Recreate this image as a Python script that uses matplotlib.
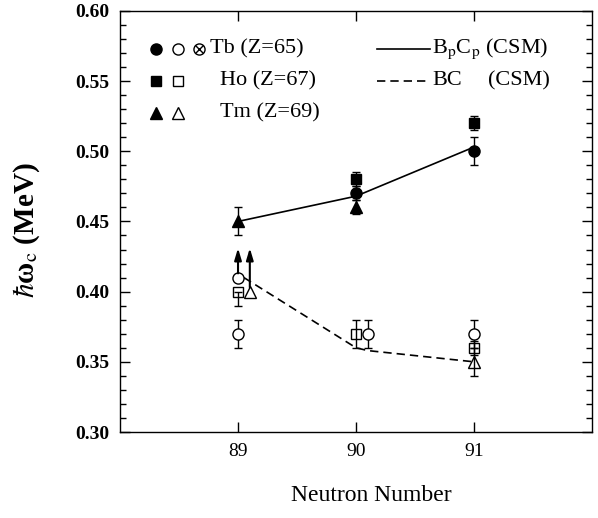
import matplotlib
matplotlib.use("Agg")
import matplotlib.pyplot as plt
from matplotlib.ticker import MultipleLocator

plt.rcParams['font.family'] = ['Liberation Serif', 'DejaVu Serif']
plt.rcParams['mathtext.fontset'] = 'stix'

# CSM curves
bpcp_n = [89, 90, 91]
bpcp_w = [0.45, 0.468, 0.503]
bc_n = [89.05, 90, 90.1, 91]
bc_w = [0.41, 0.36, 0.358, 0.35]

# filled symbols (one band)
tb_fill_n = [90, 91]
tb_fill_w = [0.47, 0.50]
tb_fill_err = [0.005, 0.01]
ho_fill_n = [90, 91]
ho_fill_w = [0.48, 0.52]
ho_fill_err = [0.005, 0.005]
tm_fill_n = [89, 90]
tm_fill_w = [0.45, 0.46]
tm_fill_err = [0.01, 0.005]

# open symbols (other band)
tb_open_n = [90.1, 91]
tb_open_w = [0.37, 0.37]
tb_open_err = [0.01, 0.01]
tb_cross_n = [89]
tb_cross_w = [0.37]
tb_cross_err = [0.01]
ho_open_n = [89, 90, 91]
ho_open_w = [0.40, 0.37, 0.36]
ho_open_lo = [0.01, 0.01, 0.005]
ho_open_hi = [0.0, 0.01, 0.005]
tm_open_n = [91]
tm_open_w = [0.35]
tm_open_err = [0.01]

# lower limits (arrows)
tb_lim_n, tb_lim_w = [89], [0.41]
tm_lim_n, tm_lim_w = [89.1], [0.40]
lim_top = 0.431

fig = plt.figure(figsize=(5.98, 5.18), dpi=100)
ax = fig.add_axes([0.2007, 0.166, 0.7893, 0.813])

ax.plot(bpcp_n, bpcp_w, '-', color='black', lw=1.2)
ax.plot(bc_n, bc_w, '--', color='black', lw=1.2, dashes=(5, 3))

eb = dict(color='black', ecolor='black', elinewidth=1.0, capsize=3, capthick=1.0, linestyle='none')
ax.errorbar(tb_fill_n, tb_fill_w, yerr=tb_fill_err, fmt='o', ms=8, mfc='black', **eb)
ax.errorbar(ho_fill_n, ho_fill_w, yerr=ho_fill_err, fmt='s', ms=7, mfc='black', **eb)
ax.errorbar(tm_fill_n, tm_fill_w, yerr=tm_fill_err, fmt='^', ms=8, mfc='black', **eb)

ax.errorbar(tb_open_n, tb_open_w, yerr=tb_open_err, fmt='o', ms=8, mfc='white', mew=1.0, **eb)
ax.errorbar(tb_cross_n, tb_cross_w, yerr=tb_cross_err, fmt='o', ms=8, mfc='white', mew=1.0, **eb)
ax.plot(tb_cross_n, tb_cross_w, 'x', color='black', ms=5.5, mew=1.0)
ax.errorbar(ho_open_n, ho_open_w, yerr=[ho_open_lo, ho_open_hi], fmt='s', ms=7, mfc='none', mew=1.0, **eb)
ax.errorbar(tm_open_n, tm_open_w, yerr=tm_open_err, fmt='^', ms=8, mfc='none', mew=1.0, **eb)

for n, w in zip(tb_lim_n + tm_lim_n, tb_lim_w + tm_lim_w):
    ax.annotate('', xy=(n, lim_top), xytext=(n, w + 0.003),
                arrowprops=dict(arrowstyle='-|>,head_length=0.5,head_width=0.15',
                                color='black', lw=1.5,
                                mutation_scale=14, shrinkA=0, shrinkB=0))
ax.plot(tb_lim_n, tb_lim_w, 'o', ms=8, mfc='white', mec='black', mew=1.0)
ax.plot(tm_lim_n, tm_lim_w, '^', ms=8, mfc='white', mec='black', mew=1.0)

ax.set_xlim(88, 92)
ax.set_ylim(0.30, 0.60)
ax.set_xticks([89, 90, 91])
ax.yaxis.set_major_locator(MultipleLocator(0.05))
ax.yaxis.set_minor_locator(MultipleLocator(0.01))
ax.yaxis.set_major_formatter(matplotlib.ticker.FormatStrFormatter('%.2f'))
ax.tick_params(which='both', direction='in', top=True, right=True, width=1.0)
ax.tick_params(which='major', length=7, labelsize=14, pad=8)
ax.tick_params(which='minor', length=4)
for lab in ax.get_yticklabels():
    lab.set_fontweight('bold')
for s in ax.spines.values():
    s.set_linewidth(1.0)

ax.set_xlabel('Neutron Number', fontsize=17)
ax.xaxis.set_label_coords(0.532, -0.127)
ax.set_ylabel(r'$\hbar$ω$_\mathrm{c}$ (MeV)', fontsize=21, fontweight='bold')
ax.yaxis.set_label_coords(-0.165, 0.48)

# legend drawn by hand
tr = ax.transAxes
ax.plot([0.076], [0.910], 'o', ms=8, mfc='black', mec='black', transform=tr)
ax.plot([0.123], [0.910], 'o', ms=8, mfc='white', mec='black', transform=tr)
ax.plot([0.167], [0.910], 'o', ms=8, mfc='white', mec='black', transform=tr)
ax.plot([0.167], [0.910], 'x', ms=5.5, color='black', mew=1.0, transform=tr)
ax.text(0.191, 0.910, 'Tb (Z=65)', fontsize=16, ha='left', va='center', transform=tr)
ax.plot([0.076], [0.834], 's', ms=7, mfc='black', mec='black', transform=tr)
ax.plot([0.123], [0.834], 's', ms=7, mfc='white', mec='black', transform=tr)
ax.text(0.212, 0.834, 'Ho (Z=67)', fontsize=16, ha='left', va='center', transform=tr)
ax.plot([0.076], [0.758], '^', ms=8, mfc='black', mec='black', transform=tr)
ax.plot([0.123], [0.758], '^', ms=8, mfc='white', mec='black', transform=tr)
ax.text(0.212, 0.758, 'Tm (Z=69)', fontsize=16, ha='left', va='center', transform=tr)

ax.plot([0.544, 0.657], [0.910, 0.910], '-', color='black', lw=1.2, transform=tr)
ax.text(0.661, 0.910, r'B$_\mathrm{p}$C$_\mathrm{p}$ (CSM)', fontsize=16, ha='left', va='center', transform=tr)
ax.plot([0.544, 0.657], [0.834, 0.834], '--', color='black', lw=1.2, dashes=(5, 3), transform=tr)
ax.text(0.661, 0.834, 'BC', fontsize=16, ha='left', va='center', transform=tr)
ax.text(0.780, 0.834, '(CSM)', fontsize=16, ha='left', va='center', transform=tr)

fig.savefig('out.png', dpi=100)
